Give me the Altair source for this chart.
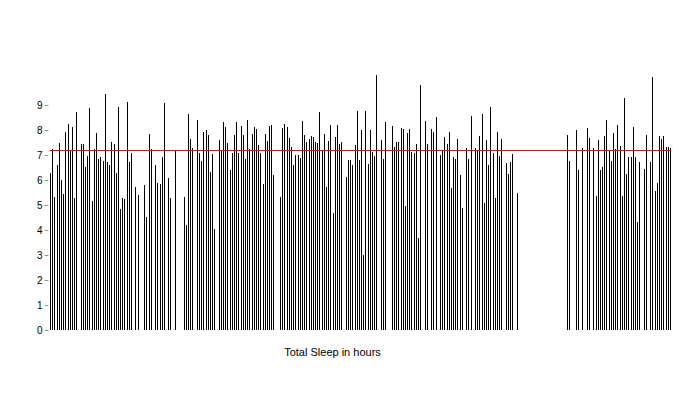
import altair as alt
import pandas as pd

# Nightly total sleep (hours); None = no record for that day
sleep_hours = [
    6.28, 7.24, 5.32, 6.6, 7.48, 6.0, 5.44, 7.92, 8.24, 7.19,
    8.12, 5.28, 8.72, None, 7.44, 7.44, 6.52, 6.96, 8.88, 5.16,
    7.24, 7.88, 6.84, 6.92, 6.76, 9.44, 6.72, 6.6, 7.52, 7.44,
    6.28, 8.92, 4.84, 5.28, 5.24, 9.12, 6.72, 7.08, None, 5.72,
    5.4, None, None, 5.8, 4.52, 7.84, 7.24, None, 6.6, 5.88,
    5.84, 6.92, 9.08, None, 6.08, 5.28, None, 7.19, None, None,
    None, 5.32, 4.2, 8.64, 7.64, 7.28, None, 8.4, 7.08, 6.76,
    7.92, 8.0, 7.8, 6.32, 7.04, 4.04, None, 7.6, 7.19, 8.32,
    8.12, 7.48, 6.4, 7.08, 7.8, 8.32, 7.08, 8.16, 7.8, 6.84,
    8.4, 7.24, 7.84, 8.12, 8.04, 7.4, 7.08, 5.84, 7.84, 7.56,
    8.16, 8.2, 6.2, None, None, 5.32, 8.08, 8.24, 8.12, 7.68,
    7.32, 6.6, 7.0, 7.0, 6.88, 8.36, 7.8, 7.52, 7.64, 7.76,
    7.72, 7.52, 7.48, 8.72, 7.19, 7.84, 5.72, 7.56, 8.2, 4.68,
    7.72, 8.2, 7.44, 7.52, None, 6.12, 6.8, 6.8, 6.6, 7.4,
    8.76, 6.8, 8.0, 3.0, 8.76, 6.64, 8.0, 7.12, 6.96, 10.2,
    None, 7.6, 6.84, 8.32, None, None, 8.16, 7.32, 7.52, 7.52,
    8.08, 8.04, 4.96, 7.88, 8.04, 7.12, 7.08, 7.44, 3.68, 9.8,
    None, 8.36, 7.44, None, 8.04, 7.92, 8.52, None, 7.0, 7.2,
    7.72, 7.44, 7.92, 5.68, 6.92, 6.84, 7.64, 6.2, 4.88, None,
    7.28, 6.84, 8.56, None, 7.28, 7.2, 7.76, 8.64, 5.08, 7.6,
    6.6, 8.92, 7.08, 5.28, 7.92, 6.96, 7.64, None, 6.68, 6.24,
    6.72, 7.04, None, 5.48, None, None, None, None, None, None,
    None, None, None, None, None, None, None, None, None, None,
    None, None, None, None, None, None, 7.8, 6.76, None, None,
    8.0, 6.4, None, 7.28, None, 8.08, 7.68, None, 7.28, 5.36,
    7.6, 6.4, 6.52, 7.76, 8.4, 7.2, 6.76, 7.88, 7.24, 8.2,
    7.36, 5.36, 9.28, 6.24, 6.92, 6.92, 8.12, 6.92, 4.32, 6.72,
    None, 6.44, 7.8, None, 6.72, 10.12, 5.56, 5.88, 7.76, 7.64,
    7.76, 7.32, 7.32, 7.28,
]
mean_sleep = 7.2
y_tick_values = [0, 1, 2, 3, 4, 5, 6, 7, 8, 9]
x_title = "Total Sleep in hours"

n = len(sleep_hours)
df = pd.DataFrame({"day": list(range(n)), "hours": sleep_hours}).dropna()
mean_df = pd.DataFrame({"day": [0], "day_end": [n - 1], "hours": [mean_sleep]})

slot = 620 / (n - 1)
pad = 2 / slot
xscale = alt.Scale(domain=[-pad, n - 1 + pad], nice=False, zero=False, round=True)
yscale = alt.Scale(domain=[0, 10.4], nice=False)

x_axis = alt.Axis(
    title=x_title, labels=False, ticks=False, domain=False, grid=False,
    titleFont="Liberation Sans", titleFontSize=11, titleFontWeight="normal",
    titleColor="black", titleX=284, titleY=22, titleBaseline="middle",
    titleAlign="center",
)
y_axis = alt.Axis(
    values=y_tick_values, title=None, grid=False, domain=False,
    tickColor="#999999", tickSize=4, labelFont="Liberation Sans",
    labelFontSize=10, labelColor="black", labelPadding=2,
)

bars = alt.Chart(df).mark_rule(color="black", strokeWidth=1, xOffset=0.5).encode(
    x=alt.X("day:Q", scale=xscale, axis=x_axis),
    y=alt.Y("hours:Q", scale=yscale, axis=y_axis),
    y2=alt.datum(0),
)

mean_line = alt.Chart(mean_df).mark_rule(color="#ff0000", strokeWidth=1, yOffset=0.5).encode(
    x=alt.X("day:Q", scale=xscale, axis=x_axis),
    x2="day_end:Q",
    y=alt.Y("hours:Q", scale=yscale, axis=y_axis),
)

chart = alt.layer(bars, mean_line).properties(
    width=624, height=260,
    padding={"left": 40, "top": 62, "right": 20, "bottom": 60},
    autosize="none",
).configure_view(stroke=None)

chart.save("out.html", embed_options={"renderer": "svg", "actions": False})
